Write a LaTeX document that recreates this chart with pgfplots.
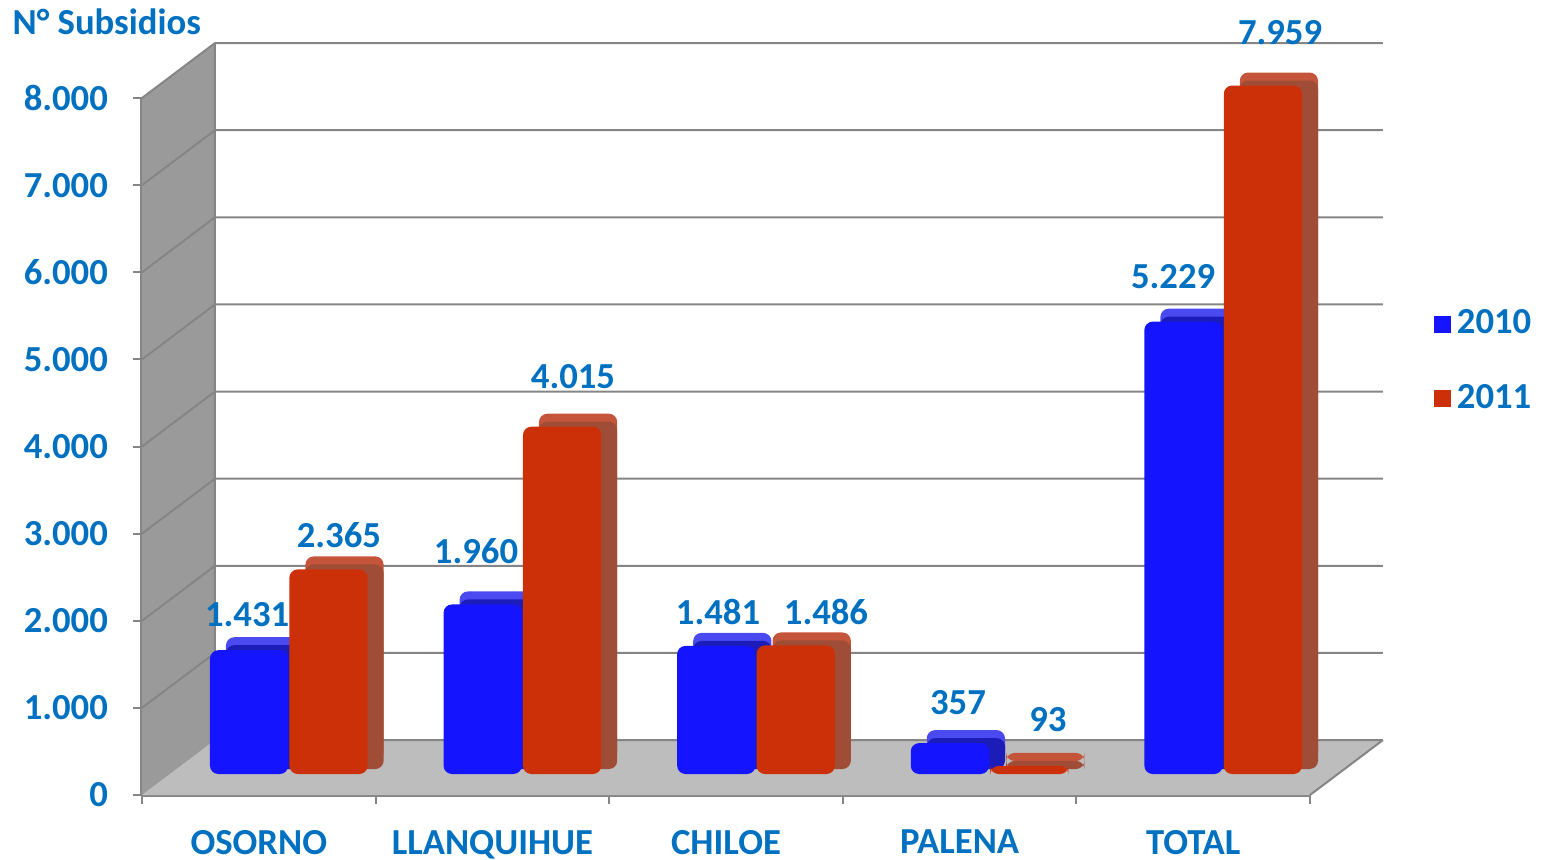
\documentclass[border=0pt]{standalone}
\usepackage{pgfplots}
\pgfplotsset{compat=1.18}
\usepackage{fontspec}
\setmainfont{Carlito}
\definecolor{txtblue}{HTML}{0070C0}
\definecolor{barblue}{HTML}{1414FF}
\definecolor{barred}{HTML}{CC3008}
\definecolor{topblue}{HTML}{4A4AF0}
\definecolor{topred}{HTML}{C4553A}
\definecolor{sideblue}{HTML}{1C1CB8}
\definecolor{sidered}{HTML}{A04D38}
\definecolor{wallgray}{HTML}{9A9A9A}
\definecolor{floorgray}{HTML}{BDBDBD}
\definecolor{gridgray}{HTML}{858585}
\newcommand{\lblfont}{\fontsize{11}{13}\selectfont\bfseries}
\begin{document}
\begin{tikzpicture}
\useasboundingbox (0,0) rectangle (464.1pt,257.7pt);
\pgfplotsset{base/.style={scale only axis, width=350.4pt, height=209.1pt,
  xmin=-0.5, xmax=4.5, ymin=0, ymax=8000, clip=false, anchor=south west},
  barax/.style={base, height=207.6pt, hide axis}}
% ---------- front plane: walls, floor, grid, ticks ----------
\begin{axis}[base, at={(42.6pt,19.2pt)},
  axis x line*=bottom, axis y line*=left,
  axis line style={draw=gridgray, line width=0.9pt},
  xtick={-0.5,0.5,1.5,2.5,3.5,4.5}, xticklabels={,,,,,},
  extra x ticks={0,1,2,3,4},
  extra x tick labels={OSORNO,LLANQUIHUE,CHILOE,PALENA,TOTAL},
  extra x tick style={major tick length=0pt, xticklabel style={yshift=-7pt}},
  ytick={0,1000,...,8000},
  tick align=outside, major tick length=2.7pt,
  tick style={draw=gridgray, line width=0.6pt},
  scaled y ticks=false,
  /pgf/number format/1000 sep={.},
  /pgf/number format/assume math mode=true,
  ticklabel style={font=\lblfont, text=txtblue},
  yticklabel style={xshift=-4pt},
]
\addplot[fill=floorgray, draw=none] coordinates {(-0.5,0) (4.5,0) (4.8125,631) (-0.1875,631)} --cycle;
\addplot[fill=wallgray, draw=none] coordinates {(-0.5,0) (-0.5,8000) (-0.1875,8631) (-0.1875,631)} --cycle;
\addplot[gridgray, line width=0.6pt, unbounded coords=jump] coordinates {
 (-0.1875,631) (4.8125,631) (nan,nan)
 (-0.1875,1631) (4.8125,1631) (nan,nan)
 (-0.1875,2631) (4.8125,2631) (nan,nan)
 (-0.1875,3631) (4.8125,3631) (nan,nan)
 (-0.1875,4631) (4.8125,4631) (nan,nan)
 (-0.1875,5631) (4.8125,5631) (nan,nan)
 (-0.1875,6631) (4.8125,6631) (nan,nan)
 (-0.1875,7631) (4.8125,7631) (nan,nan)
 (-0.1875,8631) (4.8125,8631) (nan,nan)
 (-0.5,1000) (-0.1875,1631) (nan,nan)
 (-0.5,2000) (-0.1875,2631) (nan,nan)
 (-0.5,3000) (-0.1875,3631) (nan,nan)
 (-0.5,4000) (-0.1875,4631) (nan,nan)
 (-0.5,5000) (-0.1875,5631) (nan,nan)
 (-0.5,6000) (-0.1875,6631) (nan,nan)
 (-0.5,7000) (-0.1875,7631) (nan,nan)
 (-0.5,8000) (-0.1875,8631) (nan,nan)
 (-0.1875,631) (-0.1875,8631) (nan,nan)
 (4.5,0) (4.8125,631)
};
\end{axis}
% ---------- bar top faces ----------
\begin{axis}[barax, at={(56.4pt,29.4pt)}]
\addplot[ybar, bar width=0.335, bar shift=-0.17, fill=topblue, draw=none, rounded corners=2.5pt]
  coordinates {(0,1431) (1,1960) (2,1481) (3,357) (4,5229)};
\addplot[ybar, bar width=0.335, bar shift=0.17, fill=topred, draw=none, rounded corners=2.5pt]
  coordinates {(0,2365) (1,4015) (2,1486) (3,93) (4,7959)};
\end{axis}
% ---------- bar side faces ----------
\begin{axis}[barax, at={(56.4pt,27.0pt)}]
\addplot[ybar, bar width=0.335, bar shift=-0.17, fill=sideblue, draw=none, rounded corners=2.5pt]
  coordinates {(0,1431) (1,1960) (2,1481) (3,357) (4,5229)};
\addplot[ybar, bar width=0.335, bar shift=0.17, fill=sidered, draw=none, rounded corners=2.5pt]
  coordinates {(0,2365) (1,4015) (2,1486) (3,93) (4,7959)};
\end{axis}
% ---------- bar front faces + legend ----------
\begin{axis}[barax, at={(51.6pt,25.5pt)},
  legend style={at={(1.0796,0.596)}, anchor=west, draw=none, fill=none,
    font=\lblfont, row sep=10pt, inner sep=0pt,
    nodes={text=txtblue, inner sep=1.8pt}},
  legend cell align=left]
\addplot[ybar, bar width=0.335, bar shift=-0.17, fill=barblue, draw=none, rounded corners=2.5pt,
  legend image code/.code={\fill[barblue, sharp corners] (0pt,-2.6pt) rectangle (5.2pt,2.6pt);}]
  coordinates {(0,1431) (1,1960) (2,1481) (3,357) (4,5229)};
\addlegendentry{2010}
\addplot[ybar, bar width=0.335, bar shift=0.17, fill=barred, draw=none, rounded corners=2.5pt,
  legend image code/.code={\fill[barred, sharp corners] (0pt,-2.6pt) rectangle (5.2pt,2.6pt);}]
  coordinates {(0,2365) (1,4015) (2,1486) (3,93) (4,7959)};
\addlegendentry{2011}
\end{axis}
% ---------- value labels ----------
\begin{axis}[base, at={(42.6pt,19.2pt)}, hide axis]
\addplot[draw=none, mark=none, nodes near coords, point meta=explicit symbolic,
  every node near coord/.style={anchor=center, font=\lblfont, text=txtblue}]
  coordinates {
  (-0.05,2066) [1.431]
  (0.343,2984) [2.365]
  (0.930,2800) [1.960]
  (1.345,4797) [4.015]
  (1.966,2100) [1.481]
  (2.428,2100) [1.486]
  (2.993,1056) [357]
  (3.378,861) [93]
  (3.914,5945) [5.229]
  (4.372,8746) [7.959]
  };
\end{axis}
\node[anchor=west, font=\lblfont, text=txtblue, inner sep=0pt] at (3.6pt,251.1pt) {N° Subsidios};
\end{tikzpicture}
\end{document}
